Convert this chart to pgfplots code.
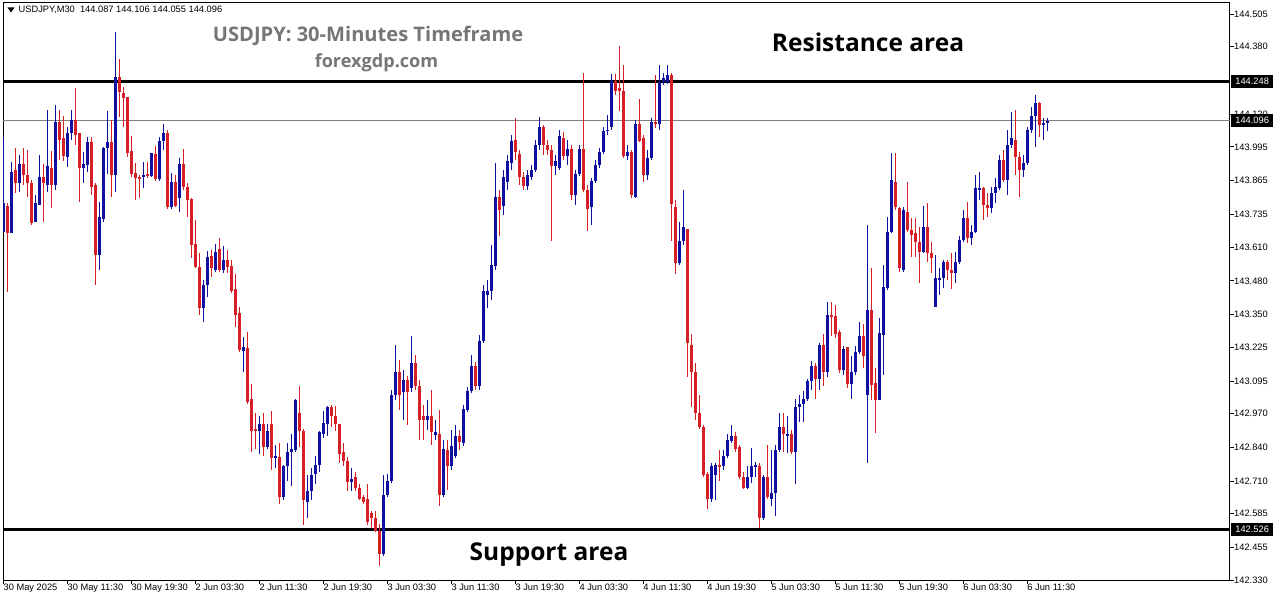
\documentclass[border=0pt]{standalone}
\usepackage{fontspec}
\setmainfont{Liberation Sans}
\newfontfamily\osans{Open Sans}
\usepackage{pgfplots}
\pgfplotsset{compat=1.18}
\usepackage{pgfplotstable}

\definecolor{bull}{RGB}{16,16,160}
\definecolor{bear}{RGB}{214,32,40}
\definecolor{bidline}{RGB}{128,128,128}
\definecolor{wmark}{RGB}{118,118,118}
\newcommand\tickfont{\fontsize{9.3bp}{11bp}\selectfont}

% USDJPY M30, bullish candles (close >= open)
\pgfplotstableread{
i o h l c
0 143.668 144.033 143.668 143.779
2 143.664 143.937 143.664 143.898
4 143.856 143.964 143.821 143.929
8 143.706 143.810 143.706 143.779
9 143.771 143.964 143.771 143.879
11 143.848 144.137 143.821 143.921
13 143.848 144.156 143.829 144.090
16 143.956 144.071 143.918 144.048
17 144.048 144.137 144.021 144.098
20 143.914 143.975 143.856 143.929
21 143.925 144.033 143.898 144.014
24 143.579 143.783 143.522 143.725
25 143.718 143.994 143.706 143.991
26 143.991 144.133 143.894 144.014
28 143.887 144.436 143.821 144.263
35 143.879 143.937 143.837 143.887
37 143.883 143.971 143.879 143.971
39 143.871 144.033 143.864 144.017
40 144.017 144.083 143.983 144.048
42 143.764 143.894 143.756 143.860
44 143.798 143.956 143.748 143.929
50 143.376 143.483 143.322 143.464
51 143.464 143.595 143.418 143.575
53 143.522 143.625 143.514 143.591
55 143.522 143.614 143.510 143.560
60 143.210 143.264 143.130 143.226
64 142.903 142.960 142.814 142.930
66 142.841 142.930 142.834 142.903
68 142.799 142.849 142.760 142.806
70 142.649 142.772 142.638 142.768
71 142.768 142.857 142.711 142.822
72 142.822 142.891 142.691 142.834
73 142.830 143.026 142.822 143.022
76 142.630 142.737 142.568 142.672
77 142.672 142.760 142.638 142.737
78 142.737 142.806 142.699 142.772
79 142.772 142.903 142.745 142.899
80 142.891 142.980 142.876 142.934
81 142.930 142.999 142.884 142.996
87 142.707 142.760 142.672 142.718
95 142.430 142.737 142.422 142.657
96 142.657 142.737 142.649 142.711
97 142.711 143.060 142.703 143.041
98 143.041 143.233 143.022 143.130
100 143.053 143.137 142.945 143.099
102 143.068 143.268 143.053 143.164
106 142.945 143.022 142.907 142.960
108 142.887 142.945 142.868 142.899
110 142.657 142.868 142.649 142.834
112 142.768 142.907 142.753 142.845
113 142.806 142.926 142.799 142.884
115 142.857 143.003 142.845 142.987
116 142.987 143.072 142.976 143.057
117 143.057 143.195 143.049 143.153
119 143.076 143.272 143.060 143.249
120 143.249 143.464 143.241 143.441
121 143.425 143.483 143.376 143.441
122 143.441 143.618 143.406 143.541
123 143.537 143.933 143.522 143.802
125 143.768 143.906 143.733 143.879
126 143.860 143.964 143.829 143.941
127 143.933 144.040 143.906 144.017
131 143.845 143.906 143.829 143.887
132 143.879 143.925 143.868 143.906
133 143.906 144.021 143.898 144.002
134 144.002 144.110 143.983 144.071
138 143.921 143.964 143.887 143.941
139 143.914 144.060 143.906 144.037
141 143.960 144.021 143.925 143.987
143 143.810 143.906 143.771 143.891
144 143.891 144.002 143.883 143.987
147 143.764 143.875 143.698 143.864
148 143.864 143.944 143.856 143.925
149 143.925 143.991 143.914 143.975
150 143.975 144.071 143.967 144.056
151 144.056 144.117 144.040 144.063
152 144.071 144.275 144.060 144.248
156 143.960 144.002 143.944 143.975
158 143.802 144.098 143.798 144.083
161 143.887 143.983 143.868 143.952
162 143.952 144.106 143.944 144.090
164 144.083 144.310 144.060 144.244
165 144.244 144.279 144.233 144.263
166 144.244 144.310 144.237 144.271
169 143.549 143.706 143.541 143.633
170 143.633 143.829 143.618 143.687
177 142.641 142.780 142.630 142.768
178 142.734 142.780 142.638 142.772
180 142.768 142.830 142.753 142.806
181 142.806 142.891 142.799 142.868
182 142.864 142.926 142.857 142.884
186 142.684 142.768 142.680 142.726
187 142.726 142.837 142.703 142.768
188 142.768 142.787 142.726 142.772
190 142.568 142.734 142.561 142.726
192 142.641 142.830 142.614 142.665
193 142.665 142.849 142.576 142.830
194 142.830 142.972 142.822 142.918
196 142.884 142.960 142.818 142.891
198 142.822 143.026 142.699 142.996
199 142.996 143.041 142.937 143.007
200 143.007 143.057 142.937 143.026
201 143.026 143.103 143.018 143.095
202 143.095 143.172 143.060 143.153
204 143.103 143.241 143.060 143.233
206 143.130 143.399 143.110 143.349
210 143.137 143.229 143.118 143.218
212 143.083 143.191 143.026 143.130
213 143.130 143.229 143.118 143.206
214 143.206 143.322 143.199 143.268
216 143.041 143.695 142.780 143.368
219 143.022 143.337 143.022 143.280
220 143.272 143.541 143.118 143.456
221 143.452 143.725 143.445 143.668
222 143.668 143.971 143.664 143.868
225 143.522 143.764 143.514 143.752
230 143.591 143.768 143.587 143.687
233 143.379 143.579 143.379 143.491
234 143.483 143.529 143.425 143.491
235 143.491 143.560 143.452 143.552
238 143.510 143.591 143.472 143.552
239 143.552 143.652 143.545 143.637
240 143.637 143.752 143.629 143.722
242 143.645 143.695 143.618 143.668
243 143.668 143.887 143.664 143.837
244 143.829 143.898 143.791 143.837
247 143.760 143.841 143.744 143.818
248 143.818 143.875 143.779 143.841
249 143.837 143.964 143.829 143.944
251 143.868 144.060 143.810 144.002
252 144.002 144.129 143.991 144.029
255 143.906 143.964 143.879 143.933
256 143.933 144.071 143.925 144.060
257 144.060 144.148 144.048 144.117
258 144.117 144.194 143.994 144.164
260 144.079 144.106 144.021 144.087
261 144.087 144.106 144.055 144.096
}\upt

% bearish candles (close < open)
\pgfplotstableread{
i o h l c
1 143.771 143.779 143.437 143.664
3 143.906 143.991 143.818 143.856
5 143.929 143.991 143.848 143.887
6 143.887 143.983 143.802 143.856
7 143.856 143.868 143.695 143.702
10 143.879 143.929 143.706 143.856
12 143.914 143.979 143.760 143.848
14 144.090 144.137 143.944 144.021
15 144.029 144.117 143.944 143.960
18 144.098 144.221 144.002 144.040
19 144.048 144.048 143.783 143.914
22 144.014 144.033 143.810 143.841
23 143.848 143.856 143.464 143.579
27 144.014 144.098 143.802 143.887
29 144.263 144.333 144.110 144.206
30 144.202 144.225 144.071 144.183
31 144.187 144.187 143.956 143.971
32 143.979 144.037 143.879 143.891
33 143.894 143.933 143.791 143.875
34 143.879 143.887 143.798 143.875
36 143.891 143.937 143.875 143.883
38 143.967 143.998 143.864 143.871
41 144.048 144.060 143.756 143.764
43 143.860 143.887 143.764 143.771
45 143.929 143.987 143.829 143.841
46 143.841 143.856 143.725 143.791
47 143.794 143.798 143.568 143.618
48 143.622 143.714 143.529 143.533
49 143.533 143.587 143.349 143.376
52 143.575 143.598 143.495 143.529
54 143.602 143.645 143.514 143.522
56 143.560 143.598 143.510 143.533
57 143.537 143.560 143.433 143.441
58 143.452 143.506 143.303 143.349
59 143.356 143.379 143.206 143.214
61 143.222 143.283 143.007 143.014
62 143.026 143.083 142.822 142.903
63 142.910 142.972 142.834 142.903
65 142.930 142.972 142.806 142.841
67 142.930 142.980 142.753 142.799
69 142.806 142.857 142.622 142.649
74 142.972 143.076 142.841 142.903
75 142.903 142.910 142.541 142.638
82 142.996 143.003 142.918 142.960
83 142.960 142.999 142.903 142.930
84 142.930 142.930 142.780 142.814
85 142.822 142.857 142.768 142.787
86 142.787 142.803 142.672 142.707
88 142.726 142.745 142.672 142.684
89 142.684 142.699 142.638 142.641
90 142.649 142.657 142.622 142.630
91 142.641 142.699 142.541 142.553
92 142.588 142.595 142.530 142.568
93 142.568 142.595 142.515 142.518
94 142.518 142.545 142.384 142.430
99 143.130 143.176 142.983 143.041
101 143.099 143.118 142.926 143.053
103 143.164 143.195 143.060 143.076
104 143.076 143.099 142.868 142.945
105 142.960 143.003 142.868 142.945
107 142.960 143.060 142.849 142.899
109 142.891 142.983 142.614 142.657
111 142.830 142.868 142.676 142.768
114 142.884 142.907 142.830 142.860
118 143.153 143.168 143.060 143.076
124 143.802 143.829 143.652 143.752
128 144.021 144.106 143.944 143.975
129 143.967 143.983 143.848 143.879
130 143.879 143.898 143.829 143.845
135 144.071 144.079 143.964 144.002
136 144.002 144.021 143.964 143.983
137 143.983 144.002 143.633 143.921
140 144.029 144.052 143.944 143.960
142 143.987 144.002 143.791 143.810
145 143.987 144.279 143.821 143.829
146 143.829 143.848 143.672 143.756
153 144.248 144.275 144.194 144.210
154 144.221 144.386 144.133 144.210
155 144.210 144.310 143.952 143.960
157 143.975 143.983 143.798 143.810
159 144.083 144.179 144.014 144.021
160 144.029 144.040 143.860 143.887
163 144.090 144.271 144.067 144.083
167 144.271 144.279 143.633 143.775
168 143.764 143.791 143.506 143.549
171 143.679 143.679 143.110 143.241
172 143.233 143.276 142.996 143.130
173 143.130 143.164 142.945 142.972
174 142.972 143.041 142.910 142.918
175 142.918 142.926 142.726 142.734
176 142.737 142.745 142.603 142.641
179 142.772 142.830 142.711 142.768
183 142.884 142.899 142.822 142.834
184 142.841 142.849 142.718 142.726
185 142.726 142.745 142.680 142.684
189 142.768 142.780 142.530 142.568
191 142.726 142.849 142.641 142.649
195 142.918 142.972 142.822 142.891
197 142.891 142.907 142.814 142.822
203 143.153 143.164 143.026 143.103
205 143.233 143.276 143.076 143.130
207 143.349 143.399 143.268 143.345
208 143.345 143.387 143.260 143.276
209 143.283 143.291 143.126 143.137
211 143.226 143.229 143.068 143.083
215 143.268 143.314 143.145 143.191
217 143.368 143.529 143.022 143.080
218 143.087 143.145 142.895 143.022
223 143.860 143.971 143.752 143.764
224 143.760 143.764 143.514 143.529
226 143.744 143.860 143.668 143.675
227 143.675 143.722 143.572 143.656
228 143.664 143.722 143.572 143.629
229 143.629 143.687 143.472 143.591
231 143.687 143.779 143.552 143.587
232 143.587 143.629 143.510 143.568
236 143.552 143.560 143.483 143.522
237 143.522 143.587 143.452 143.510
241 143.722 143.783 143.625 143.645
245 143.837 143.841 143.714 143.771
246 143.771 143.818 143.725 143.760
250 143.944 143.983 143.860 143.868
253 144.021 144.137 143.887 143.956
254 143.956 143.975 143.802 143.906
259 144.164 144.167 144.033 144.079
}\dnt

\pgfplotsset{
  wick/.style={draw=none, mark=none, forget plot,
    error bars/.cd, y dir=both, y explicit, error mark=none,
    error bar style={line width=1bp, draw=#1}},
  body/.style={draw=none, mark=none, forget plot,
    error bars/.cd, y dir=both, y explicit, error mark=none,
    error bar style={line width=3bp, draw=#1}},
}

\begin{document}
\begin{tikzpicture}
\useasboundingbox (0,0) rectangle (1276bp,604bp);
\begin{axis}[
  at={(3bp,24bp)}, anchor=south west,
  scale only axis, width=1227bp, height=577bp,
  xmin=-0.1, xmax=306.7, ymin=142.330, ymax=144.548,
  axis line style={line width=1bp, black},
  xtick={0,16,...,256},
  xticklabels={30 May 2025,30 May 11:30,30 May 19:30,2 Jun 03:30,2 Jun 11:30,2 Jun 19:30,3 Jun 03:30,3 Jun 11:30,3 Jun 19:30,4 Jun 03:30,4 Jun 11:30,4 Jun 19:30,5 Jun 03:30,5 Jun 11:30,5 Jun 19:30,6 Jun 03:30,6 Jun 11:30},
  ytick={144.505,144.380,144.120,143.995,143.865,143.735,143.610,143.480,143.350,143.225,143.095,142.970,142.840,142.710,142.585,142.455,142.330},
  yticklabels={144.505,144.380,144.120,143.995,143.865,143.735,143.610,143.480,143.350,143.225,143.095,142.970,142.840,142.710,142.585,142.455,142.330},
  xtick pos=bottom, ytick pos=right, yticklabel pos=right,
  tick align=outside, major tick length=4bp,
  tick style={black, line width=0.8bp},
  xticklabel style={anchor=north west, inner sep=0pt, font=\tickfont},
  yticklabel style={anchor=west, inner sep=0pt, font=\tickfont},
]
% levels
\addplot[black, line width=3bp, forget plot] coordinates {(-0.1,144.248) (306.7,144.248)};
\addplot[black, line width=3bp, forget plot] coordinates {(-0.1,142.526) (306.7,142.526)};
\addplot[bidline, line width=1bp, forget plot] coordinates {(-0.1,144.096) (306.7,144.096)};
% wicks
\addplot[wick=bull] table[x=i, y expr={(\thisrow{h}+\thisrow{l})/2}, y error expr={(\thisrow{h}-\thisrow{l})/2}] {\upt};
\addplot[wick=bear] table[x=i, y expr={(\thisrow{h}+\thisrow{l})/2}, y error expr={(\thisrow{h}-\thisrow{l})/2}] {\dnt};
% bodies
\addplot[body=bull] table[x=i, y expr={(\thisrow{o}+\thisrow{c})/2}, y error expr={max(abs(\thisrow{c}-\thisrow{o})/2,0.0019)}] {\upt};
\addplot[body=bear] table[x=i, y expr={(\thisrow{o}+\thisrow{c})/2}, y error expr={max(abs(\thisrow{c}-\thisrow{o})/2,0.0019)}] {\dnt};
\coordinate (r1) at (axis cs:306.7,144.248);
\coordinate (r2) at (axis cs:306.7,144.096);
\coordinate (r3) at (axis cs:306.7,142.526);
\end{axis}
\tikzset{pbox/.style={fill=black, text=white, anchor=west, inner sep=0pt,
  minimum width=42bp, minimum height=13bp, font=\tickfont}}
\node[pbox] at ([xshift=1bp]r1) {144.248};
\node[pbox] at ([xshift=1bp]r2) {144.096};
\node[pbox] at ([xshift=1bp]r3) {142.526};
% header
\fill (7.5bp,596.5bp) -- (14.5bp,596.5bp) -- (11bp,591.5bp) -- cycle;
\node[anchor=west, inner sep=0pt, font=\tickfont] at (18.5bp,594bp) {USDJPY,M30\ \ 144.087 144.106 144.055 144.096};
\node[anchor=base, inner sep=0pt, text=wmark, font={\osans\bfseries\fontsize{20.1bp}{24bp}\selectfont}] at (368bp,562.5bp) {USDJPY: 30-Minutes Timeframe};
\node[anchor=base, inner sep=0pt, text=wmark, font={\osans\bfseries\fontsize{18.1bp}{22bp}\selectfont}] at (376.5bp,536bp) {forexgdp.com};
\node[anchor=base, inner sep=0pt, font={\osans\bfseries\fontsize{24.5bp}{28bp}\selectfont}] at (868bp,552bp) {Resistance area};
\node[anchor=base, inner sep=0pt, font={\osans\bfseries\fontsize{24.5bp}{28bp}\selectfont}] at (549bp,43bp) {Support area};
\end{tikzpicture}
\end{document}
